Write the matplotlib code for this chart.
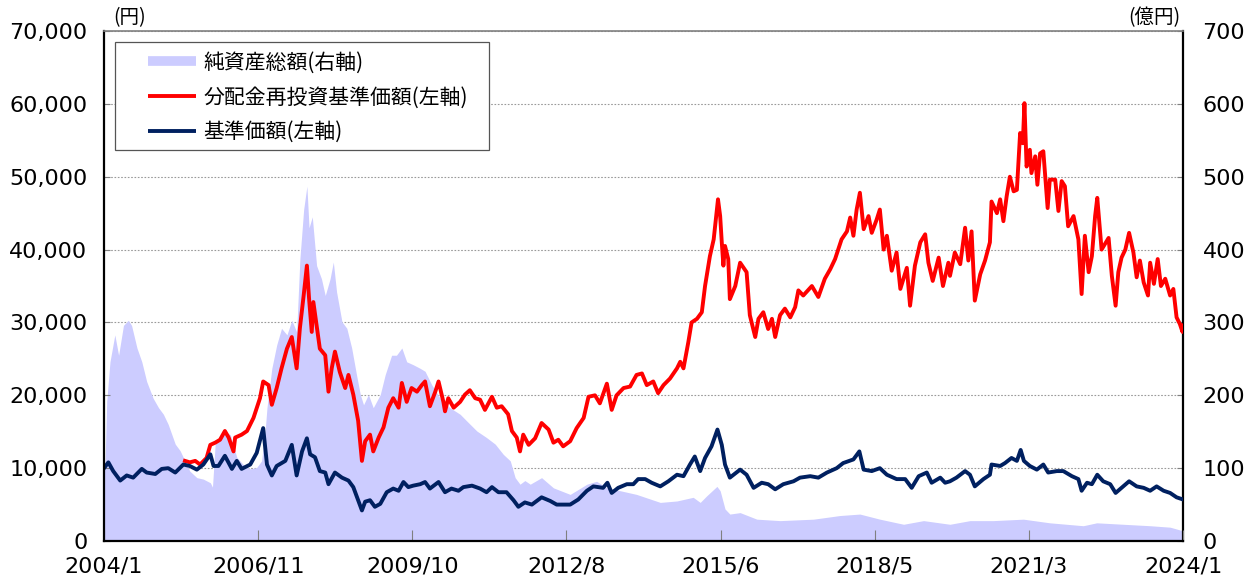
import numpy as np
import matplotlib
matplotlib.use("Agg")
import matplotlib.pyplot as plt
from matplotlib.lines import Line2D
from matplotlib.patches import Rectangle
from matplotlib.ticker import FuncFormatter

plt.rcParams['font.family'] = ['Noto Sans CJK JP', 'DejaVu Sans']

# 基準価額(左軸) 円
nav_t = [2004.00, 2004.08, 2004.17, 2004.30, 2004.42, 2004.54, 2004.70, 2004.79, 2004.95, 2005.07,
         2005.19, 2005.32, 2005.47, 2005.59, 2005.72, 2005.84, 2005.97, 2006.03, 2006.12, 2006.24,
         2006.37, 2006.46, 2006.55, 2006.71, 2006.83, 2006.95, 2007.02, 2007.11, 2007.20, 2007.36,
         2007.48, 2007.57, 2007.67, 2007.76, 2007.82, 2007.91, 2008.00, 2008.10, 2008.16, 2008.28,
         2008.41, 2008.53, 2008.62, 2008.71, 2008.78, 2008.84, 2008.93, 2009.02, 2009.12, 2009.24,
         2009.36, 2009.46, 2009.55, 2009.64, 2009.73, 2009.86, 2009.95, 2010.04, 2010.20, 2010.32,
         2010.44, 2010.57, 2010.66, 2010.82, 2010.97, 2011.09, 2011.19, 2011.31, 2011.46, 2011.59,
         2011.68, 2011.80, 2011.93, 2012.11, 2012.27, 2012.39, 2012.64, 2012.79, 2012.95, 2013.07,
         2013.25, 2013.33, 2013.41, 2013.53, 2013.69, 2013.81, 2013.90, 2014.03, 2014.15, 2014.31,
         2014.46, 2014.62, 2014.74, 2014.86, 2014.95, 2015.05, 2015.14, 2015.26, 2015.37, 2015.45,
         2015.51, 2015.60, 2015.79, 2015.91, 2016.04, 2016.19, 2016.31, 2016.44, 2016.59, 2016.78,
         2016.90, 2017.09, 2017.24, 2017.40, 2017.58, 2017.70, 2017.89, 2018.00, 2018.08, 2018.23,
         2018.38, 2018.51, 2018.69, 2018.85, 2018.97, 2019.10, 2019.25, 2019.34, 2019.50, 2019.59,
         2019.68, 2019.80, 2019.96, 2020.05, 2020.14, 2020.30, 2020.42, 2020.45, 2020.61, 2020.70,
         2020.82, 2020.92, 2020.99, 2021.05, 2021.16, 2021.29, 2021.41, 2021.50, 2021.66, 2021.78,
         2021.94, 2022.06, 2022.12, 2022.22, 2022.31, 2022.41, 2022.52, 2022.65, 2022.75, 2022.86,
         2023.00, 2023.14, 2023.27, 2023.39, 2023.51, 2023.64, 2023.76, 2023.88, 2024.00]
nav = [10000, 10800, 9600, 8300, 9000, 8700, 9900, 9400, 9200, 9900,
       10000, 9400, 10500, 10300, 9800, 10500, 11900, 10300, 10300, 11700,
       9900, 11000, 9900, 10500, 12100, 15500, 10500, 9000, 10300, 11000,
       13200, 9000, 12300, 14100, 11900, 11500, 9600, 9400, 7800, 9400,
       8700, 8300, 7400, 5600, 4200, 5400, 5600, 4700, 5100, 6700,
       7200, 6900, 8100, 7400, 7600, 7800, 8100, 7200, 8100, 6700,
       7200, 6900, 7400, 7600, 7200, 6700, 7400, 6700, 6700, 5600,
       4700, 5300, 5000, 6000, 5500, 5000, 5000, 5700, 6900, 7500,
       7300, 8000, 6600, 7300, 7800, 7800, 8500, 8500, 8000, 7500,
       8200, 9100, 8900, 10500, 11600, 9600, 11400, 13000, 15300, 13200,
       10500, 8700, 9800, 9100, 7300, 8000, 7800, 7100, 7800, 8200,
       8700, 8900, 8700, 9400, 10000, 10700, 11200, 12300, 9800, 9600,
       10000, 9100, 8500, 8500, 7300, 8900, 9400, 8000, 8700, 8000,
       8200, 8700, 9600, 9100, 7500, 8500, 9100, 10500, 10300, 10700,
       11400, 11000, 12500, 11000, 10300, 9800, 10500, 9400, 9600, 9600,
       8900, 8500, 6900, 8000, 7800, 9100, 8200, 7800, 6600, 7300,
       8200, 7500, 7300, 6900, 7500, 6900, 6600, 6000, 5700]

# 分配金再投資基準価額(左軸) 円
reinv_t = [2005.50, 2005.59, 2005.69, 2005.78, 2005.90, 2005.97, 2006.06, 2006.15, 2006.24, 2006.31,
           2006.40, 2006.43, 2006.55, 2006.65, 2006.77, 2006.89, 2006.95, 2007.05, 2007.11, 2007.20,
           2007.29, 2007.39, 2007.48, 2007.57, 2007.63, 2007.70, 2007.76, 2007.80, 2007.85, 2007.88,
           2007.94, 2008.00, 2008.10, 2008.16, 2008.22, 2008.28, 2008.37, 2008.47, 2008.53, 2008.62,
           2008.71, 2008.78, 2008.84, 2008.93, 2008.99, 2009.09, 2009.18, 2009.27, 2009.36, 2009.46,
           2009.52, 2009.61, 2009.70, 2009.80, 2009.89, 2009.95, 2010.04, 2010.14, 2010.20, 2010.29,
           2010.32, 2010.38, 2010.48, 2010.60, 2010.69, 2010.78, 2010.88, 2010.97, 2011.06, 2011.19,
           2011.28, 2011.37, 2011.49, 2011.56, 2011.65, 2011.71, 2011.77, 2011.87, 2011.99, 2012.11,
           2012.24, 2012.33, 2012.42, 2012.51, 2012.64, 2012.76, 2012.89, 2012.98, 2013.10, 2013.19,
           2013.32, 2013.41, 2013.50, 2013.63, 2013.75, 2013.87, 2013.97, 2014.06, 2014.18, 2014.27,
           2014.37, 2014.49, 2014.62, 2014.68, 2014.74, 2014.83, 2014.89, 2014.99, 2015.08, 2015.14,
           2015.23, 2015.30, 2015.38, 2015.42, 2015.45, 2015.48, 2015.51, 2015.57, 2015.60, 2015.70,
           2015.79, 2015.91, 2015.97, 2016.07, 2016.13, 2016.22, 2016.31, 2016.38, 2016.44, 2016.53,
           2016.62, 2016.72, 2016.81, 2016.87, 2016.96, 2017.12, 2017.24, 2017.36, 2017.46, 2017.55,
           2017.67, 2017.77, 2017.83, 2017.89, 2017.95, 2018.01, 2018.08, 2018.17, 2018.23, 2018.32,
           2018.38, 2018.45, 2018.51, 2018.60, 2018.69, 2018.76, 2018.88, 2018.94, 2019.03, 2019.13,
           2019.22, 2019.28, 2019.36, 2019.47, 2019.55, 2019.65, 2019.68, 2019.77, 2019.87, 2019.96,
           2020.02, 2020.08, 2020.14, 2020.24, 2020.33, 2020.42, 2020.45, 2020.55, 2020.61, 2020.67,
           2020.73, 2020.79, 2020.86, 2020.92, 2020.98, 2021.03, 2021.06, 2021.10, 2021.16, 2021.19,
           2021.26, 2021.30, 2021.35, 2021.41, 2021.49, 2021.53, 2021.63, 2021.69, 2021.75, 2021.81,
           2021.87, 2021.97, 2022.06, 2022.12, 2022.18, 2022.25, 2022.31, 2022.37, 2022.41, 2022.49,
           2022.62, 2022.68, 2022.75, 2022.80, 2022.86, 2022.93, 2023.00, 2023.08, 2023.14, 2023.20,
           2023.27, 2023.35, 2023.39, 2023.46, 2023.53, 2023.59, 2023.67, 2023.76, 2023.82, 2023.88,
           2023.94, 2023.99, 2024.00]
reinv = [11000, 10800, 11000, 10500, 11400, 13200, 13500, 13900, 15100, 14200,
         12300, 14200, 14600, 15100, 16900, 19600, 21900, 21400, 18700, 21000,
         23700, 26400, 28000, 23700, 29200, 33700, 37800, 33300, 28700, 32800,
         29600, 26400, 25500, 20500, 23700, 26000, 23200, 21000, 22800, 20100,
         16500, 11000, 13700, 14600, 12300, 14200, 15600, 18300, 19600, 18300,
         21700, 19100, 21000, 20500, 21400, 21900, 18500, 20500, 21900, 19100,
         17800, 19600, 18300, 19100, 20100, 20700, 19600, 19400, 18000, 19800,
         18300, 18500, 17400, 15100, 14200, 12300, 14600, 13200, 14100, 16200,
         15300, 13500, 13900, 13000, 13700, 15500, 16900, 19800, 20000, 18900,
         21600, 18000, 20000, 21000, 21200, 22800, 23000, 21400, 21900, 20300,
         21400, 22300, 23700, 24600, 23700, 27300, 30000, 30500, 31400, 35000,
         39100, 41400, 46900, 44600, 41000, 37800, 40500, 38700, 33200, 35000,
         38200, 36900, 31000, 28000, 30500, 31400, 29100, 30500, 28000, 31000,
         31900, 30700, 32100, 34400, 33700, 35000, 33500, 36000, 37300, 38700,
         41400, 42500, 44400, 41900, 45500, 47800, 42800, 44600, 42300, 44100,
         45500, 40000, 41900, 37100, 39600, 34600, 37500, 32300, 37800, 41000,
         42100, 38200, 35700, 38900, 35000, 38200, 36400, 39600, 38000, 43000,
         38500, 42500, 33000, 36600, 38500, 41000, 46600, 45000, 46900, 43900,
         47300, 50000, 48000, 48200, 56000, 54600, 60100, 51400, 53700, 50500,
         52800, 48900, 53200, 53500, 45700, 49600, 49600, 45300, 49400, 48700,
         43200, 44600, 41400, 33900, 41900, 36900, 39100, 44600, 47100, 40000,
         41600, 36400, 32300, 36900, 38900, 40000, 42300, 39600, 36200, 38500,
         35500, 33700, 38200, 35300, 38700, 35000, 36000, 33700, 34600, 30700,
         29800, 28700, 29600]

# 純資産総額(右軸) 億円
aum_t = [2004.00, 2004.02, 2004.05, 2004.11, 2004.20, 2004.27, 2004.36, 2004.45, 2004.51, 2004.61,
         2004.70, 2004.79, 2004.91, 2005.01, 2005.10, 2005.19, 2005.32, 2005.41, 2005.50, 2005.59,
         2005.72, 2005.84, 2005.97, 2006.01, 2006.06, 2006.21, 2006.34, 2006.46, 2006.58, 2006.71,
         2006.83, 2006.92, 2006.99, 2007.02, 2007.11, 2007.20, 2007.29, 2007.39, 2007.48, 2007.57,
         2007.63, 2007.70, 2007.76, 2007.80, 2007.86, 2007.94, 2008.03, 2008.10, 2008.19, 2008.25,
         2008.31, 2008.41, 2008.50, 2008.59, 2008.68, 2008.75, 2008.81, 2008.90, 2008.99, 2009.12,
         2009.21, 2009.33, 2009.42, 2009.52, 2009.61, 2009.73, 2009.86, 2009.95, 2010.07, 2010.23,
         2010.41, 2010.60, 2010.72, 2010.91, 2011.09, 2011.25, 2011.40, 2011.53, 2011.62, 2011.71,
         2011.80, 2011.90, 2012.11, 2012.33, 2012.64, 2012.95, 2013.13, 2013.32, 2013.57, 2013.87,
         2014.31, 2014.62, 2014.92, 2015.05, 2015.17, 2015.36, 2015.42, 2015.51, 2015.60, 2015.79,
         2016.10, 2016.53, 2017.15, 2017.64, 2018.01, 2018.38, 2018.82, 2019.19, 2019.68, 2020.05,
         2020.48, 2021.04, 2021.53, 2022.15, 2022.40, 2022.89, 2023.39, 2023.76, 2024.00]
aum = [100, 110, 192, 246, 283, 255, 296, 303, 296, 265,
       246, 219, 196, 183, 174, 160, 133, 124, 110, 96,
       87, 85, 80, 74, 133, 151, 146, 115, 105, 99,
       101, 110, 155, 183, 237, 269, 292, 283, 303, 287,
       387, 455, 487, 430, 445, 378, 360, 337, 360, 383,
       342, 301, 292, 265, 228, 201, 187, 201, 183, 201,
       228, 255, 255, 265, 246, 242, 237, 233, 215, 196,
       183, 174, 165, 151, 142, 133, 119, 110, 87, 78,
       83, 78, 87, 73, 64, 78, 82, 73, 69, 64,
       53, 55, 60, 53, 62, 75, 69, 44, 37, 39,
       30, 28, 30, 35, 37, 30, 23, 28, 23, 28,
       28, 30, 25, 21, 25, 23, 21, 19, 14]

x_ticklabels = ['2004/1', '2006/11', '2009/10', '2012/8', '2015/6', '2018/5', '2021/3', '2024/1']

fig = plt.figure(figsize=(12.49, 5.81), dpi=100)
ax = fig.add_axes([0.0833, 0.0688, 0.8639, 0.8778])
ax2 = ax.twinx()
ax.set_zorder(ax2.get_zorder() + 1)
ax.patch.set_visible(False)

# 純資産総額 (塗りつぶし, 右軸)
ax2.fill_between(aum_t, 0, aum, color='#ccccff', linewidth=0, zorder=1)
ax2.set_ylim(0, 700)
ax2.set_yticks(np.arange(0, 701, 100))
ax2.set_axisbelow(True)
ax2.grid(axis='y', color='#9a9a9a', linestyle=(0, (1.5, 1.5)), linewidth=0.8)

# 基準価額 / 分配金再投資基準価額 (左軸)
ax.plot(reinv_t, reinv, color='#ff0000', linewidth=2.8, solid_joinstyle='round')
ax.plot(nav_t, nav, color='#002060', linewidth=2.8, solid_joinstyle='round')

ax.set_xlim(2004, 2024)
ax.set_ylim(0, 70000)
ax.set_yticks(np.arange(0, 70001, 10000))
ax.yaxis.set_major_formatter(FuncFormatter(lambda v, p: f'{int(v):,}'))
ax.set_xticks(np.linspace(2004, 2024, 8))
ax.set_xticklabels(x_ticklabels)

ax.tick_params(axis='y', direction='in', length=4, width=0.8, color='#808080',
               labelsize=16, pad=12)
ax.tick_params(axis='x', direction='in', length=8, width=0.8, color='#808080',
               labelsize=16, pad=11)
ax2.tick_params(axis='y', direction='in', length=4, width=0.8, color='#808080',
                labelsize=16, pad=14)
for lab in ax.get_yticklabels() + ax.get_xticklabels() + ax2.get_yticklabels():
    lab.set_family(['DejaVu Sans'])

for s in ['left', 'bottom']:
    ax.spines[s].set_linewidth(1.6)
    ax.spines[s].set_color('black')
ax.spines['right'].set_visible(False)
ax.spines['top'].set_color('#808080')
ax.spines['top'].set_linewidth(1.2)
for s in ['left', 'bottom', 'top']:
    ax2.spines[s].set_visible(False)
ax2.spines['right'].set_linewidth(1.6)
ax2.spines['right'].set_color('black')

# 単位
fig.text(0.0905, 0.97, '(円)', fontsize=14, ha='left', va='center')
fig.text(0.945, 0.97, '(億円)', fontsize=14, ha='right', va='center')

# 凡例 (枠は別に描く)
ax.add_patch(Rectangle((0.0102, 0.7667), 0.3466, 0.2117, transform=ax.transAxes,
                       facecolor='white', edgecolor='#555555', linewidth=0.9, zorder=5))
handles = [Line2D([], [], color='#ccccff', linewidth=7, solid_capstyle='butt'),
           Line2D([], [], color='#ff0000', linewidth=2.8, solid_capstyle='butt'),
           Line2D([], [], color='#002060', linewidth=2.8, solid_capstyle='butt')]
labels = ['純資産総額(右軸)', '分配金再投資基準価額(左軸)', '基準価額(左軸)']
leg = ax.legend(handles, labels, loc='upper left', bbox_to_anchor=(0.0408, 0.9600),
                borderaxespad=0, borderpad=0, fontsize=15, frameon=False,
                handlelength=2.3, handletextpad=0.34, labelspacing=0.62)
leg.set_zorder(6)

fig.savefig('out.png', dpi=100)
